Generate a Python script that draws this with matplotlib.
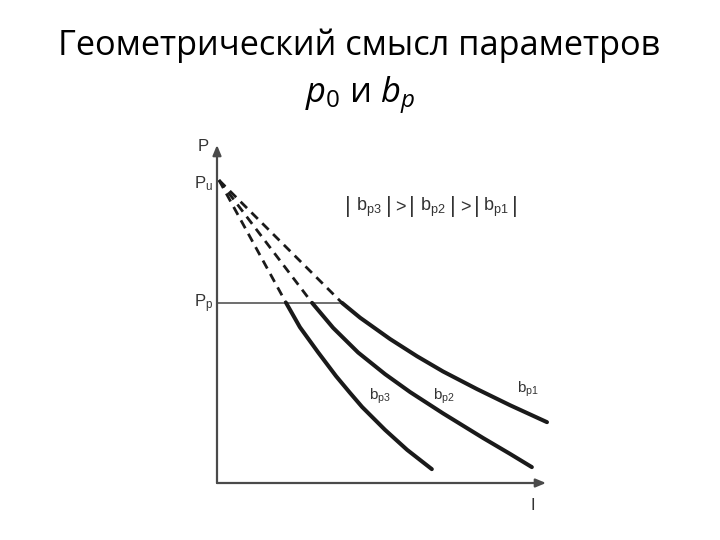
#!/usr/bin/env python3
"""
Geometric meaning of the parameters p0 and bp: falling characteristics
with a common start point Pu and different slopes.
"""

import matplotlib
matplotlib.use('Agg')
import matplotlib.pyplot as plt

plt.rcParams['mathtext.fontset'] = 'custom'
plt.rcParams['mathtext.it'] = 'Open Sans:italic'
plt.rcParams['mathtext.rm'] = 'Open Sans'
plt.rcParams['lines.scale_dashes'] = False

# chart units: I axis 0..100, P axis 0..100
P_U = 89.6
P_P = 53.3
DASH_START_I = 0.6

curve1_i = [38.0, 43.5, 52.6, 60.8, 68.7, 79.0, 89.1, 100.3]
curve1_p = [53.3, 48.9, 42.6, 37.5, 33.0, 27.8, 23.0, 18.0]

curve2_i = [28.9, 35.3, 42.9, 51.1, 58.7, 68.7, 80.9, 89.1, 95.7]
curve2_p = [53.3, 45.9, 38.6, 32.2, 26.9, 20.6, 13.3, 8.6, 4.7]

curve3_i = [21.0, 25.2, 30.7, 36.2, 40.4, 44.1, 51.1, 57.8, 65.3]
curve3_p = [53.3, 46.1, 38.7, 31.6, 26.7, 22.5, 15.7, 9.8, 4.1]

curve_labels = [r'$\mathregular{b_{p1}}$', r'$\mathregular{b_{p2}}$', r'$\mathregular{b_{p3}}$']
relation_terms = [r'$\mathregular{b_{p3}}$', r'$\mathregular{b_{p2}}$', r'$\mathregular{b_{p1}}$']

TITLE = 'Геометрический смысл параметров'
SUBTITLE = r'$\mathit{p}_{\mathit{0}}$ и $\mathit{b}_{\mathit{p}}$'

INK = '#1a1a1a'
AXIS = '#4a4a4a'
LABEL_FONT = 'Liberation Sans'


def fit_text(fig, txt, target_px):
    """Scale font size so the text spans target_px pixels."""
    for _ in range(3):
        fig.canvas.draw()
        w = txt.get_window_extent().width
        txt.set_fontsize(txt.get_fontsize() * target_px / w)


fig = plt.figure(figsize=(7.2, 5.4), dpi=100)
ax = fig.add_axes([0, 0, 1, 1])
# pixel 217 -> I=0, 546 -> I=100 ; pixel 483 -> P=0, 145 -> P=100
ax.set_xlim(-217 / 3.29, (720 - 217) / 3.29)
ax.set_ylim(-(540 - 483) / 3.38, 483 / 3.38)
ax.axis('off')

# axes with arrows
arrow = dict(arrowstyle='-|>,head_length=0.6,head_width=0.25', color=AXIS, lw=1.6,
             shrinkA=0, shrinkB=0)
ax.annotate('', xy=(0, 100), xytext=(0, 0), arrowprops=arrow)
ax.annotate('', xy=(100, 0), xytext=(0, 0), arrowprops=arrow)

# Pp level line
ax.plot([0, curve1_i[0]], [P_P, P_P], color='#555555', lw=1.2, solid_capstyle='butt')

curves = [(curve1_i, curve1_p), (curve2_i, curve2_p), (curve3_i, curve3_p)]

# dashed extrapolations to Pu
for ci, cp in curves:
    ax.plot([DASH_START_I, ci[0]], [P_U, cp[0]], color=INK, lw=2.0,
            dashes=(6.5, 4.5), dash_capstyle='butt')

# solid characteristics
for ci, cp in curves:
    ax.plot(ci, cp, color=INK, lw=2.9, solid_capstyle='round', solid_joinstyle='round')

# axis labels
lab = dict(family=LABEL_FONT, color='#333333')
ax.text(-4.3, 99.5, 'P', fontsize=12, ha='center', va='center', **lab)
ax.text(-1.2, 88.6, r'$\mathregular{P_{u}}$', fontsize=12, ha='right', va='center', **lab)
ax.text(-1.2, 53.0, r'$\mathregular{P_{p}}$', fontsize=12, ha='right', va='center', **lab)
ax.text(96.0, -6.6, 'I', fontsize=12, ha='center', va='center', **lab)

# curve names
ax.text(94.6, 27.6, curve_labels[0], fontsize=11, ha='center', va='center', **lab)
ax.text(68.9, 25.6, curve_labels[1], fontsize=11, ha='center', va='center', **lab)
ax.text(49.4, 25.6, curve_labels[2], fontsize=11, ha='center', va='center', **lab)

# |bp3| > |bp2| > |bp1|
rel_y = 81.5
bars_x = [39.8, 52.3, 59.3, 71.7, 79.0, 90.6]
for bx in bars_x:
    ax.text(bx, rel_y + 0.3, '|', fontsize=16, ha='center', va='center', **lab)
for gx in [55.8, 75.35]:
    ax.text(gx, rel_y, '>', fontsize=13, ha='center', va='center', **lab)
for k, term in enumerate(relation_terms):
    tx = (bars_x[2 * k] + bars_x[2 * k + 1]) / 2
    ax.text(tx, rel_y, term, fontsize=13, ha='center', va='center', **lab)

# title lines (Calibri-like)
t1 = fig.text(58 / 720, 1 - 55 / 540, TITLE, family='Open Sans', fontsize=26,
              ha='left', va='baseline', color='black')
t2 = fig.text(305 / 720, 1 - 103 / 540, SUBTITLE, family='Open Sans', fontsize=26,
              ha='left', va='baseline', color='black')
fit_text(fig, t1, 604)
fit_text(fig, t2, 110)

fig.savefig('out.png', dpi=100)
